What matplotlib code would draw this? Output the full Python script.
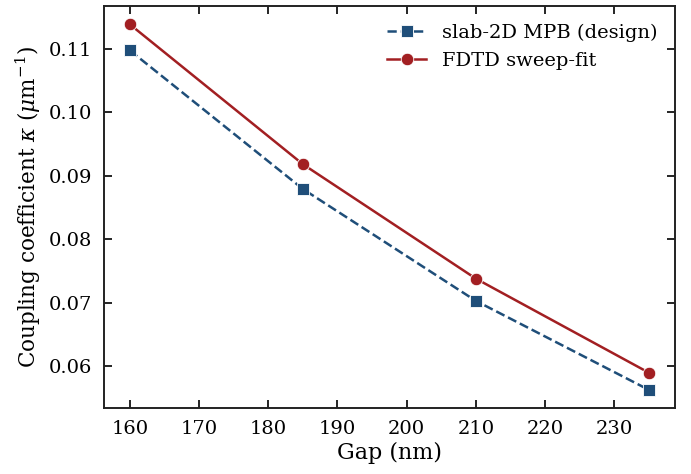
import matplotlib
matplotlib.use("Agg")
import matplotlib.pyplot as plt

# gap values (nm) and coupling coefficients (1/um)
gaps = [160, 185, 210, 235]
kappa_mpb = [0.1097, 0.0879, 0.0703, 0.0563]
kappa_fdtd = [0.1138, 0.0918, 0.0738, 0.0590]

label_mpb = "slab-2D MPB (design)"
label_fdtd = "FDTD sweep-fit"

plt.rcParams['font.family'] = ['DejaVu Serif']
plt.rcParams['mathtext.fontset'] = 'dejavuserif'

fig = plt.figure(figsize=(6.91, 4.74), dpi=100)
ax = fig.add_axes([0.1505, 0.139, 0.826, 0.848])

ax.plot(gaps, kappa_mpb, ls='--', color='#1f4e79', lw=1.8, marker='s',
        ms=9, mec='white', mew=0.6, label=label_mpb)
ax.plot(gaps, kappa_fdtd, ls='-', color='#a21f22', lw=1.8, marker='o',
        ms=9, mec='white', mew=0.6, label=label_fdtd)

ax.set_xlabel("Gap (nm)", fontsize=16, labelpad=3)
ax.set_ylabel(r"Coupling coefficient $\kappa$ ($\mu$m$^{-1}$)", fontsize=15.5)

ax.tick_params(direction='in', top=True, right=True, labelsize=14,
               length=6, width=1.2, pad=8.5)
for s in ax.spines.values():
    s.set_linewidth(1.4)
    s.set_color('#222222')

ax.legend(loc='upper right', frameon=False, fontsize=14)

fig.savefig("out.png", dpi=100)
